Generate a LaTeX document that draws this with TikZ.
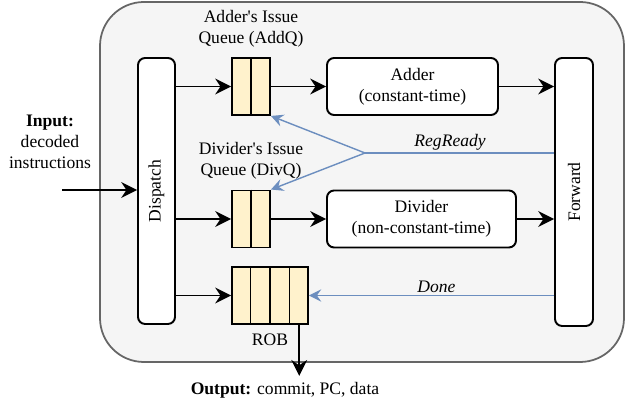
\documentclass[tikz,border=0pt]{standalone}
\usepackage{fontspec}
\setmainfont{Liberation Serif}
\usetikzlibrary{calc,positioning,arrows.meta}
\definecolor{sigblue}{HTML}{6C8EBF}
\definecolor{qyellow}{HTML}{FFF2CC}
\definecolor{backgray}{HTML}{F5F5F5}
\definecolor{framegray}{HTML}{666666}
\tikzstyle{arrow} = [line width=1.1pt,-{Stealth[length=9pt,width=9pt,inset=3pt]}]
\tikzstyle{sig} = [line width=0.8pt,-{Stealth[length=7pt,width=7pt,inset=2.5pt]},draw=sigblue]
\tikzstyle{sigline} = [line width=0.8pt,draw=sigblue]
\tikzstyle{unit} = [draw,line width=1.1pt,rounded corners=4pt,fill=white,align=center]
\tikzstyle{queue} = [draw,line width=1.1pt,fill=qyellow,minimum height=1.14cm]

\begin{document}
\begin{tikzpicture}[x=0.02cm,y=-0.02cm]
            \useasboundingbox (0,0) rectangle (626,404);
            % outer frame
            \draw[line width=1pt,draw=framegray,fill=backgray,rounded corners=25pt] (100,2) rectangle (624,362);

            % dispatch and forward
            \node[unit,minimum width=0.74cm,minimum height=5.32cm] (disp) at (156.5,191) {\rotatebox{90}{Dispatch}};
            \node[unit,minimum width=0.76cm,minimum height=5.36cm] (fwd) at (574,192) {\rotatebox{90}{Forward}};

            % queues
            \node[queue,minimum width=0.76cm] (addq) at (251,86.5) {};
            \node[queue,minimum width=0.76cm] (divq) at (251,219) {};
            \node[queue,minimum width=1.52cm] (rob) at (270,295.5) {};
            \draw[line width=1.1pt] (addq.north) -- (addq.south);
            \draw[line width=1.1pt] (divq.north) -- (divq.south);
            \foreach \f in {0.25,0.5,0.75}
                \draw[line width=1.1pt] ($(rob.north west)!\f!(rob.north east)$) -- ($(rob.south west)!\f!(rob.south east)$);
            \node[align=center] (addqlbl) at (251,28.5) {Adder\textquotesingle s Issue\\Queue (AddQ)};
            \node[align=center] (divqlbl) at (251,161) {Divider\textquotesingle s Issue\\Queue (DivQ)};
            \node (roblbl) at (270,340) {ROB};

            % execution units
            \node[unit,minimum width=3.42cm,minimum height=1.14cm] (adder) at (412.5,86.5) {Adder\\(constant-time)};
            \node[unit,minimum width=3.78cm,minimum height=1.14cm] (divider) at (421.5,219) {Divider\\(non-constant-time)};

            % data path
            \draw[arrow] (disp.east |- addq) -- (addq.west);
            \draw[arrow] (addq) -- (adder);
            \draw[arrow] (adder) -- (fwd.west |- adder);
            \draw[arrow] (disp.east |- divq) -- (divq.west);
            \draw[arrow] (divq) -- (divider);
            \draw[arrow] (divider) -- (fwd.west |- divider);
            \draw[arrow] (disp.east |- rob) -- (rob.west);

            % signals back from forward
            \coordinate (split) at (365,153);
            \draw[sigline] (fwd.west |- split) -- node[above,inner sep=1pt,pos=0.55] {\itshape RegReady} (split);
            \draw[sig] (split) -- (addq.south east);
            \draw[sig] (split) -- (divq.north east);
            \draw[sig] (fwd.west |- rob) -- node[above,inner sep=1pt,pos=0.48] {\itshape Done} (rob.east);

            % input and output
            \node[align=center] (input) at (50,142) {\textbf{Input:}\\decoded\\instructions};
            \coordinate (in) at (62,190);
            \draw[arrow] (in) -- (disp.west |- in);
            \coordinate (robout) at ($(rob.south west)!0.875!(rob.south east)$);
            \node (out) at (285,390) {\textbf{Output:} commit, PC, data};
            \draw[arrow] (robout) -- (robout |- out.north);
        \end{tikzpicture}
\end{document}
